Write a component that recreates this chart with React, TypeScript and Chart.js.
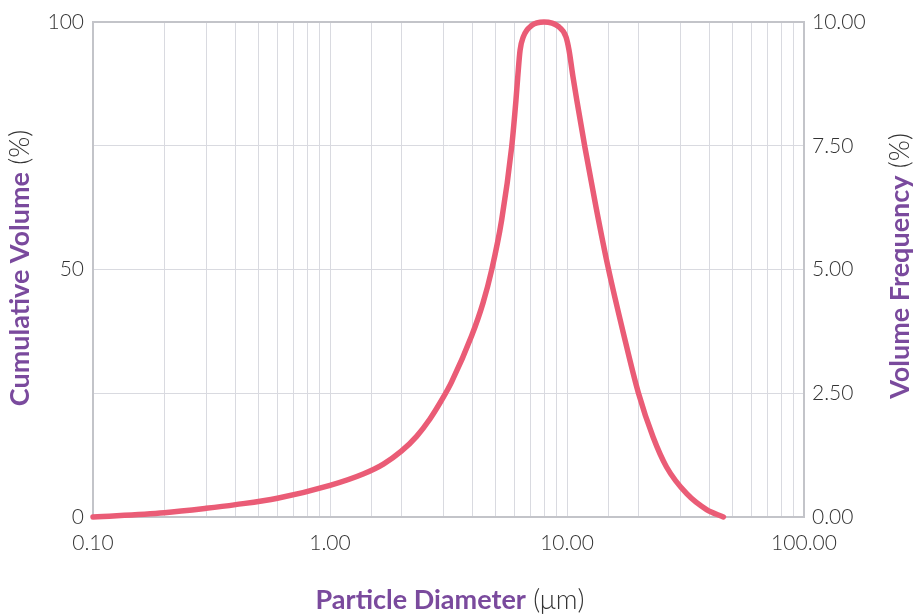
import React, { useEffect, useRef } from "react";
import { Chart, registerables } from "chart.js";

Chart.register(...registerables);

// Particle diameter (µm) and volume frequency (%)
const diameters = [
  0.1, 0.2, 0.3, 0.4, 0.6, 1.0, 1.38, 1.68, 2.0, 2.32, 2.64, 3.0, 3.26, 3.96, 4.42,
  4.81, 5.3, 5.84, 6.09, 6.19, 6.34, 6.54, 7.1, 8.0, 9.19, 9.9, 10.2, 10.6, 11.0,
  11.9, 13.26, 14.9, 17.3, 20.0, 23.1, 26.3, 32.0, 38.8, 45.7,
];
const frequency = [
  0.0, 0.087, 0.175, 0.25, 0.38, 0.64, 0.87, 1.07, 1.33, 1.63, 1.98, 2.41, 2.73, 3.66, 4.32,
  4.99, 6.0, 7.47, 8.42, 8.86, 9.43, 9.7, 9.93, 10.0, 9.91, 9.7, 9.43, 8.89, 8.42,
  7.47, 6.26, 5.05, 3.71, 2.51, 1.61, 1.01, 0.47, 0.15, 0.0,
];

const leftTicks = [0, 50, 100];
const rightTicks = [0, 2.5, 5, 7.5, 10];
const xLabelTicks = [0.1, 1, 10, 100];

const xTitleBold = "Particle Diameter";
const xTitleRest = " (μm)";
const yLeftTitleBold = "Cumulative Volume";
const yLeftTitleRest = " (%)";
const yRightTitleBold = "Volume Frequency";
const yRightTitleRest = " (%)";

const PURPLE = "#7a4a9d";
const TEXT = "#333333";
const LINE = "#ea5c76";
const GRID = "#d9dae0";
const BORDER = "#c3c4c9";
const FONT = "Lato";
const TITLE_SIZE = 27;

function drawMixed(ctx: CanvasRenderingContext2D, bold: string, rest: string, cx: number, cy: number, rot: number, size: number) {
  ctx.save();
  ctx.translate(cx, cy);
  ctx.rotate(rot);
  ctx.textBaseline = "middle";
  ctx.textAlign = "left";
  const bFont = `bold ${size}px ${FONT}`;
  const rFont = `300 ${size}px ${FONT}`;
  ctx.font = bFont;
  const wb = ctx.measureText(bold).width;
  ctx.font = rFont;
  const wr = ctx.measureText(rest).width;
  const start = -(wb + wr) / 2;
  ctx.font = bFont;
  ctx.fillStyle = PURPLE;
  ctx.fillText(bold, start, 0);
  ctx.font = rFont;
  ctx.fillStyle = TEXT;
  ctx.fillText(rest, start + wb, 0);
  ctx.restore();
}

const framePlugin = {
  id: "frame",
  beforeDatasetsDraw(chart: any) {
    const { ctx, chartArea } = chart;
    ctx.save();
    ctx.strokeStyle = BORDER;
    ctx.lineWidth = 2;
    ctx.strokeRect(chartArea.left, chartArea.top, chartArea.right - chartArea.left, chartArea.bottom - chartArea.top);
    ctx.restore();
  },
  afterDraw(chart: any) {
    const { ctx } = chart;
    drawMixed(ctx, xTitleBold, xTitleRest, 450, 600, 0, TITLE_SIZE);
    drawMixed(ctx, yLeftTitleBold, yLeftTitleRest, 20, 268, -Math.PI / 2, TITLE_SIZE);
    drawMixed(ctx, yRightTitleBold, yRightTitleRest, 900, 266, -Math.PI / 2, TITLE_SIZE);
  },
};

export default function App() {
  const ref = useRef<HTMLCanvasElement>(null);
  useEffect(() => {
    if (!ref.current) return;
    const points = diameters.map((d, i) => ({ x: d, y: frequency[i] }));
    const chart = new Chart(ref.current, {
      type: "line",
      data: {
        datasets: [
          {
            data: points,
            yAxisID: "yRight",
            borderColor: LINE,
            borderWidth: 5.5,
            borderCapStyle: "round",
            borderJoinStyle: "round",
            pointRadius: 0,
            cubicInterpolationMode: "monotone",
            fill: false,
            clip: false,
          },
        ],
      },
      options: {
        animation: false,
        responsive: false,
        maintainAspectRatio: false,
        layout: { padding: { top: 22, left: 0, right: 0, bottom: 0 } },
        plugins: { legend: { display: false }, tooltip: { enabled: false } },
        scales: {
          x: {
            type: "logarithmic",
            min: 0.1,
            max: 100,
            afterFit: (s: any) => { s.height = 98; },
            grid: { color: GRID, lineWidth: 1, drawTicks: false },
            border: { display: false },
            ticks: {
              autoSkip: false,
              maxRotation: 0,
              padding: 14,
              color: TEXT,
              font: { family: FONT, size: 21, weight: "300" },
              callback: (v: any) => {
                const n = Number(v);
                return xLabelTicks.some((t) => Math.abs(t - n) < 1e-9) ? n.toFixed(2) : "";
              },
            },
          },
          yLeft: {
            type: "linear",
            position: "left",
            min: 0,
            max: 100,
            afterFit: (s: any) => { s.width = 93; },
            grid: { color: GRID, lineWidth: 1, drawTicks: false },
            border: { display: false },
            ticks: {
              stepSize: 25,
              padding: 9,
              color: TEXT,
              font: { family: FONT, size: 21, weight: "300" },
              callback: (v: any) => (leftTicks.includes(Number(v)) ? String(v) : ""),
            },
          },
          yRight: {
            type: "linear",
            position: "right",
            min: 0,
            max: 10,
            afterFit: (s: any) => { s.width = 110; },
            grid: { display: false, drawTicks: false },
            border: { display: false },
            ticks: {
              stepSize: 2.5,
              padding: 8,
              color: TEXT,
              font: { family: FONT, size: 21, weight: "300" },
              callback: (v: any) => (rightTicks.includes(Number(v)) ? Number(v).toFixed(2) : ""),
            },
          },
        },
      },
      plugins: [framePlugin],
    } as any);
    return () => chart.destroy();
  }, []);
  return (
    <div style={{ position: "absolute", left: 0, top: 0, width: 914, height: 615, background: "#fff" }}>
      <canvas ref={ref} width={914} height={615} style={{ width: 914, height: 615 }} />
    </div>
  );
}
